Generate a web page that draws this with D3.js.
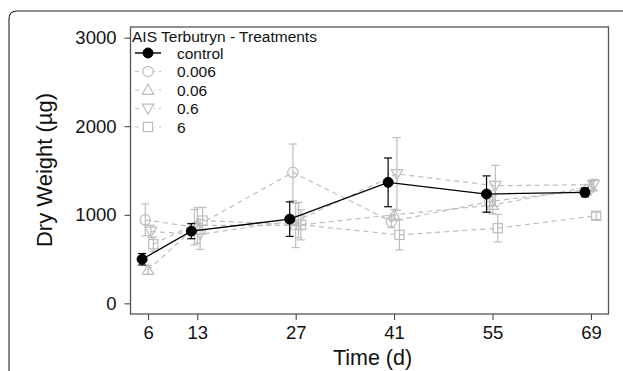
<!DOCTYPE html>
<html>
<head>
<meta charset="utf-8">
<script src="https://cdn.jsdelivr.net/npm/d3@7"></script>
<style>
  body { margin: 0; background: #fff; }
  svg { font-family: "Liberation Sans", Arial, sans-serif; display: block; }
</style>
</head>
<body>
<div id="chart"></div>
<script>
const days = [6, 13, 27, 41, 55, 69];
const yTicks = [0, 1000, 2000, 3000];

const seriesNames = ["control", "0.006", "0.06", "0.6", "6"];
const control    = [498, 815, 951, 1366, 1234, 1253];
const controlErr = [65, 85, 195, 275, 205, 50];
const c0006      = [943, 860, 1479, 925, 1150, 1283];
const c0006Err   = [180, 200, 320, 70, 120, 60];
const c006       = [377, 880, 880, 1000, 1110, 1320];
const c006Err    = [50, 200, 250, 60, 100, 60];
const c06        = [811, 780, 940, 1461, 1328, 1340];
const c06Err     = [70, 170, 200, 410, 230, 60];
const c6         = [668, 935, 887, 773, 849, 989];
const c6Err      = [80, 150, 170, 170, 155, 40];

const series = [
  { name: seriesNames[0], vals: control, err: controlErr, shape: "dot",  dx: -0.85 },
  { name: seriesNames[1], vals: c0006,   err: c0006Err,   shape: "circle", dx: -0.4 },
  { name: seriesNames[2], vals: c006,    err: c006Err,    shape: "up",   dx: 0 },
  { name: seriesNames[3], vals: c06,     err: c06Err,     shape: "down", dx: 0.4 },
  { name: seriesNames[4], vals: c6,      err: c6Err,      shape: "square", dx: 0.75 }
];

const width = 623, height = 371;
const margin = { left: 130.5, right: 14.5, top: 27, bottom: 57 };
const gray = "#bdbdbd";

const svg = d3.select("#chart").append("svg")
  .attr("width", width).attr("height", height);

// outer panel frame
svg.append("path")
  .attr("d", "M9,380 L9,19 Q9,11 17,11 L640,11")
  .attr("fill", "none").attr("stroke", "#222").attr("stroke-width", 1.2);
svg.append("path")
  .attr("d", "M9,380 L9,19")
  .attr("fill", "none").attr("stroke", "#8a8a8a").attr("stroke-width", 1.6);

const x = d3.scaleLinear().domain([3.5, 71.5]).range([margin.left, width - margin.right]);
const y = d3.scaleLinear().domain([-120, 3120]).range([height - margin.bottom, margin.top]);

// axes
const yAxis = svg.append("g").attr("transform", `translate(${margin.left},0)`)
  .call(d3.axisLeft(y).tickValues(yTicks).tickSize(6).tickPadding(8).tickFormat(d3.format("d")));
yAxis.select(".domain").remove();
yAxis.selectAll("line").attr("stroke", "#333");
yAxis.selectAll("text").attr("font-size", 18.5).attr("fill", "#111").attr("font-family", "Liberation Sans, Arial");

const xAxis = svg.append("g").attr("transform", `translate(0,${height - margin.bottom})`)
  .call(d3.axisBottom(x).tickValues(days).tickSize(6).tickPadding(6).tickFormat(d3.format("d")));
xAxis.select(".domain").remove();
xAxis.selectAll("line").attr("stroke", "#333");
xAxis.selectAll("text").attr("font-size", 18.5).attr("fill", "#111").attr("font-family", "Liberation Sans, Arial");

// box
svg.append("rect")
  .attr("x", margin.left).attr("y", margin.top)
  .attr("width", width - margin.right - margin.left)
  .attr("height", height - margin.bottom - margin.top)
  .attr("fill", "none").attr("stroke", "#555").attr("stroke-width", 1.3);

// axis titles
svg.append("text")
  .attr("x", (x(6) + x(69)) / 2 + 3).attr("y", 365)
  .attr("text-anchor", "middle").attr("font-size", 21.5).attr("fill", "#111")
  .text("Time (d)");
svg.append("text")
  .attr("transform", "translate(52,170) rotate(-90)")
  .attr("text-anchor", "middle").attr("font-size", 22).attr("fill", "#111")
  .text("Dry Weight (µg)");

const tri = d3.symbol().type(d3.symbolTriangle).size(58);

function drawMarker(g, shape, color) {
  if (shape === "dot") {
    g.append("circle").attr("r", 5).attr("fill", "#000").attr("stroke", "#000");
  } else if (shape === "circle") {
    g.append("circle").attr("r", 5.2).attr("fill", "none").attr("stroke", color).attr("stroke-width", 1.2);
  } else if (shape === "up") {
    g.append("path").attr("d", tri()).attr("transform", "translate(0,1)")
      .attr("fill", "none").attr("stroke", color).attr("stroke-width", 1.2);
  } else if (shape === "down") {
    g.append("path").attr("d", tri()).attr("transform", "translate(0,-1) rotate(180)")
      .attr("fill", "none").attr("stroke", color).attr("stroke-width", 1.2);
  } else {
    g.append("rect").attr("x", -4.6).attr("y", -4.6).attr("width", 9.2).attr("height", 9.2)
      .attr("fill", "none").attr("stroke", color).attr("stroke-width", 1.2);
  }
}

// draw grey series first, control on top
const order = [1, 2, 3, 4, 0];
order.forEach(i => {
  const s = series[i];
  const isCtrl = s.shape === "dot";
  const color = isCtrl ? "#000" : gray;
  const pts = days.map((d, j) => ({ x: x(d + s.dx), v: s.vals[j], e: s.err[j] }));
  const g = svg.append("g");

  g.append("path")
    .attr("d", d3.line().x(p => p.x).y(p => y(p.v))(pts))
    .attr("fill", "none").attr("stroke", color)
    .attr("stroke-width", isCtrl ? 1.3 : 1.2)
    .attr("stroke-dasharray", isCtrl ? null : "5,4");

  const eb = g.selectAll(".eb").data(pts).join("g");
  eb.append("line")
    .attr("x1", p => p.x).attr("x2", p => p.x)
    .attr("y1", p => y(p.v - p.e)).attr("y2", p => y(p.v + p.e))
    .attr("stroke", color).attr("stroke-width", 1.2);
  [-1, 1].forEach(sg => {
    eb.append("line")
      .attr("x1", p => p.x - 4).attr("x2", p => p.x + 4)
      .attr("y1", p => y(p.v + sg * p.e)).attr("y2", p => y(p.v + sg * p.e))
      .attr("stroke", color).attr("stroke-width", 1.2);
  });

  pts.forEach(p => {
    const m = g.append("g").attr("transform", `translate(${p.x},${y(p.v)})`);
    drawMarker(m, s.shape, color);
  });
});

// legend
const legend = svg.append("g");
legend.append("text").attr("x", 132).attr("y", 42)
  .attr("font-size", 15.5).attr("fill", "#111").text("AIS Terbutryn - Treatments");
series.forEach((s, i) => {
  const isCtrl = s.shape === "dot";
  const color = isCtrl ? "#000" : gray;
  const cy = 53 + i * 18.5;
  legend.append("line").attr("x1", 135).attr("x2", 161).attr("y1", cy).attr("y2", cy)
    .attr("stroke", color).attr("stroke-width", isCtrl ? 1.4 : 1.2)
    .attr("stroke-dasharray", isCtrl ? null : "4,4");
  if (!isCtrl) {
    legend.append("rect").attr("x", 142).attr("y", cy - 6).attr("width", 12).attr("height", 12).attr("fill", "#fff");
  }
  const m = legend.append("g").attr("transform", `translate(148,${cy})`);
  drawMarker(m, s.shape, color);
  legend.append("text").attr("x", 177).attr("y", cy + 5.5)
    .attr("font-size", 15.5).attr("fill", "#111").text(s.name);
});
</script>
</body>
</html>
